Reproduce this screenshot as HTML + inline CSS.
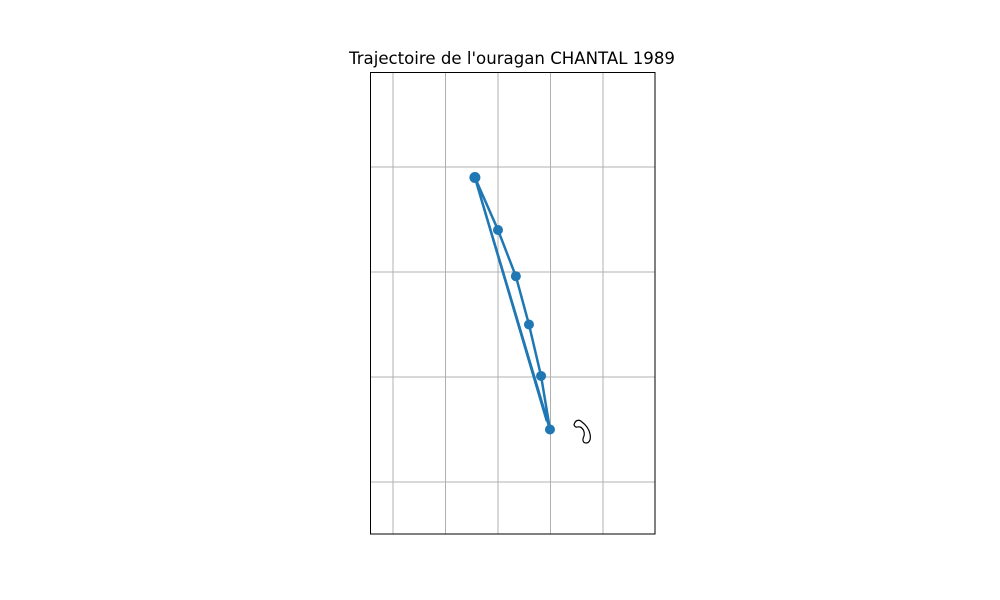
<!DOCTYPE html>
<html><head><meta charset="utf-8"><style>
html,body{margin:0;padding:0;background:#fff;width:1000px;height:600px;overflow:hidden}
svg{display:block;font-family:"DejaVu Sans","Liberation Sans",sans-serif}
</style></head><body>
<svg width="1000" height="600">
<text x="512" y="64" text-anchor="middle" font-size="16.6">Trajectoire de l'ouragan CHANTAL 1989</text>
<g id="grid"></g>
<path d="M574,425 C575,420 579,419 582,422 C586,425 589,429 590,434 C591,438 590,443 586,443 C583,443 582,440 584,436 C585,432 583,428 580,427 C578,426 576,429 574,425 Z" fill="none" stroke="#000" stroke-width="1.2"/>
<g id="track"></g>
<rect x="370.5" y="72.5" width="284.5" height="461.5" fill="none" stroke="#000" stroke-width="1"/>
</svg>
<script>
const lonTicks=[-65,-60,-55,-50,-45];
const latTicks=[40,35,30,25];
const trackLon=[-57.2,-55.0,-53.3,-52.05,-50.9,-50.05,-57.2,-50.35];
const trackLat=[39.5,37.0,34.8,32.5,30.05,27.5,39.5,27.9];
const markerIdx=[0,1,2,3,4,5];
const X=lon=>393+(lon+65)*10.5;
const Y=lat=>167+(40-lat)*21;
const NS='http://www.w3.org/2000/svg';
const grid=document.getElementById('grid');
lonTicks.forEach(v=>{const l=document.createElementNS(NS,'line');
l.setAttribute('x1',X(v));l.setAttribute('x2',X(v));l.setAttribute('y1',72);l.setAttribute('y2',534);
l.setAttribute('stroke','#b0b0b0');l.setAttribute('stroke-width','1');


grid.appendChild(l);});
latTicks.forEach(v=>{const l=document.createElementNS(NS,'line');
l.setAttribute('y1',Y(v));l.setAttribute('y2',Y(v));l.setAttribute('x1',370);l.setAttribute('x2',655);
l.setAttribute('stroke','#b0b0b0');l.setAttribute('stroke-width','1');


grid.appendChild(l);});
const track=document.getElementById('track');
const p=document.createElementNS(NS,'polyline');
p.setAttribute('points',trackLon.map((v,i)=>X(v)+','+Y(trackLat[i])).join(' '));
p.setAttribute('fill','none');p.setAttribute('stroke','#1f77b4');p.setAttribute('stroke-width','2.5');


track.appendChild(p);
markerIdx.forEach(i=>{const c=document.createElementNS(NS,'circle');
c.setAttribute('cx',X(trackLon[i]));c.setAttribute('cy',Y(trackLat[i]));c.setAttribute('r',i===0?5.5:5);
c.setAttribute('fill','#1f77b4');


track.appendChild(c);});
</script>
</body></html>
